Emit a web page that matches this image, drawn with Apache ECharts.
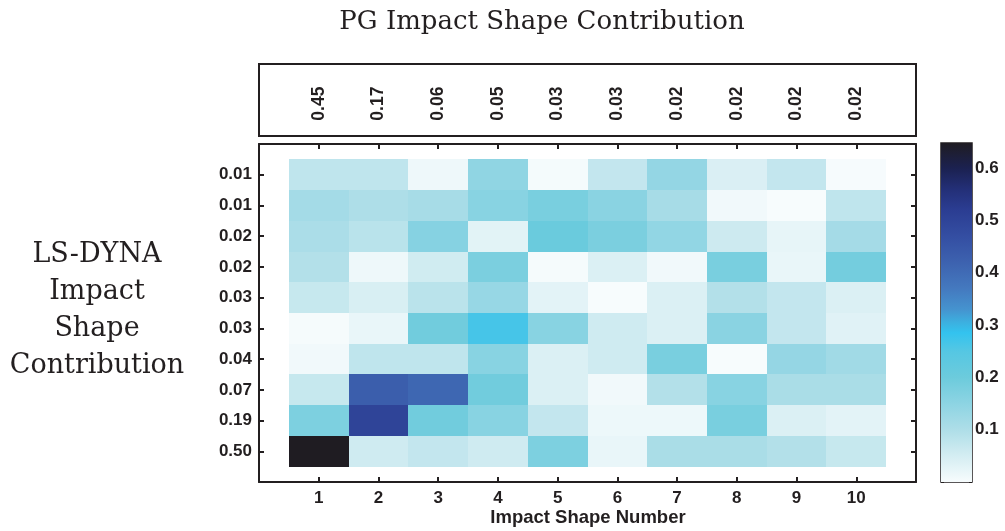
<!DOCTYPE html>
<html>
<head>
<meta charset="utf-8">
<title>Impact Shape Contribution</title>
<script src="https://cdn.jsdelivr.net/npm/echarts@6/dist/echarts.min.js"></script>
<style>
  html, body { margin: 0; padding: 0; background: #ffffff; }
  #chart { width: 1005px; height: 531px; }
</style>
</head>
<body>
<div id="chart"></div>
<script>
// Impact shape numbers (columns)
const shapeNumbers = [1, 2, 3, 4, 5, 6, 7, 8, 9, 10];
// PG contribution of each impact shape (top strip)
const pgContribution = [0.45, 0.17, 0.06, 0.05, 0.03, 0.03, 0.02, 0.02, 0.02, 0.02];
// LS-DYNA contribution of each impact shape (row labels, top to bottom)
const lsDynaContribution = [0.01, 0.01, 0.02, 0.02, 0.03, 0.03, 0.04, 0.07, 0.19, 0.50];
// Cross-contribution matrix, one row per LS-DYNA shape, one column per PG shape
const crossContribution = [
  [0.077, 0.077, 0.013, 0.146, 0.004, 0.072, 0.140, 0.042, 0.072, 0.002],
  [0.115, 0.100, 0.110, 0.157, 0.180, 0.154, 0.110, 0.009, 0.000, 0.077],
  [0.104, 0.085, 0.160, 0.030, 0.204, 0.178, 0.142, 0.059, 0.023, 0.113],
  [0.094, 0.013, 0.055, 0.177, 0.003, 0.040, 0.009, 0.180, 0.020, 0.188],
  [0.068, 0.045, 0.084, 0.135, 0.029, 0.000, 0.040, 0.094, 0.072, 0.040],
  [0.003, 0.020, 0.193, 0.265, 0.157, 0.057, 0.040, 0.154, 0.072, 0.033],
  [0.009, 0.077, 0.077, 0.157, 0.040, 0.057, 0.180, 0.000, 0.138, 0.120],
  [0.068, 0.430, 0.410, 0.193, 0.040, 0.009, 0.094, 0.157, 0.106, 0.106],
  [0.175, 0.500, 0.193, 0.157, 0.072, 0.014, 0.014, 0.180, 0.040, 0.029],
  [0.648, 0.057, 0.072, 0.057, 0.175, 0.020, 0.106, 0.106, 0.094, 0.068]
];
// Colour scale range and its tick labels
const colorRange = [0, 0.648];
const colorTicks = [0.1, 0.2, 0.3, 0.4, 0.5, 0.6];

// Colour map: white -> cyan -> blue -> black
const COLORMAP = [
  [0.000, '#f7fcfd'],
  [0.050, '#d4edf2'],
  [0.100, '#aedee8'],
  [0.150, '#8dd4e3'],
  [0.200, '#6ccbdc'],
  [0.250, '#55c7e3'],
  [0.285, '#33c3ef'],
  [0.305, '#3cb0e0'],
  [0.330, '#4593cf'],
  [0.370, '#4479bf'],
  [0.420, '#3d62af'],
  [0.470, '#344ea2'],
  [0.520, '#2b3d92'],
  [0.560, '#232f77'],
  [0.600, '#1b2150'],
  [0.648, '#1f1c22']
];

function hexToRgb(h) {
  return [parseInt(h.slice(1, 3), 16), parseInt(h.slice(3, 5), 16), parseInt(h.slice(5, 7), 16)];
}
function colorAt(v) {
  if (v <= COLORMAP[0][0]) return COLORMAP[0][1];
  for (let i = 1; i < COLORMAP.length; i++) {
    if (v <= COLORMAP[i][0]) {
      const [v0, c0] = COLORMAP[i - 1];
      const [v1, c1] = COLORMAP[i];
      const t = (v - v0) / (v1 - v0);
      const a = hexToRgb(c0), b = hexToRgb(c1);
      const c = a.map((x, k) => Math.round(x + (b[k] - x) * t));
      return 'rgb(' + c.join(',') + ')';
    }
  }
  return COLORMAP[COLORMAP.length - 1][1];
}

const INK = '#231f20';
const TICK_FONT = { fontFamily: '"Liberation Sans", Arial, sans-serif', fontWeight: 'bold', fontSize: 17, color: INK };

const cellData = [];
crossContribution.forEach((row, r) => {
  row.forEach((v, c) => cellData.push([shapeNumbers[c], r + 1, v]));
});
const stripData = pgContribution.map((v, i) => [shapeNumbers[i], 0.45, v]);

function boxAxis(extra) {
  return Object.assign({
    type: 'value', min: 0, max: 11, interval: 1,
    splitLine: { show: false },
    axisLine: { show: true, onZero: false, lineStyle: { color: INK, width: 2 } },
    axisTick: { show: true, inside: true, length: 5, lineStyle: { color: INK, width: 2 } },
    axisLabel: { show: false }
  }, extra);
}

const chart = echarts.init(document.getElementById('chart'), null, { renderer: 'canvas' });

chart.setOption({
  backgroundColor: '#ffffff',
  animation: false,
  grid: [
    { left: 259, top: 144, width: 657, height: 338 },
    { left: 941, top: 143, width: 31, height: 339, show: true, borderColor: INK, borderWidth: 1.5, backgroundColor: 'transparent' },
    { left: 259, top: 64, width: 657, height: 72, show: true, borderColor: INK, borderWidth: 2, backgroundColor: 'transparent' }
  ],
  xAxis: [
    boxAxis({
      gridIndex: 0, position: 'bottom',
      axisLabel: Object.assign({
        show: true, margin: 8,
        formatter: v => (v >= 1 && v <= 10) ? String(shapeNumbers[v - 1]) : ''
      }, TICK_FONT)
    }),
    boxAxis({ gridIndex: 0, position: 'top' }),
    { type: 'value', gridIndex: 1, min: 0, max: 1, show: false },
    { type: 'value', gridIndex: 2, min: 0, max: 11, show: false }
  ],
  yAxis: [
    boxAxis({
      gridIndex: 0, position: 'left', inverse: true,
      axisLabel: Object.assign({
        show: true, margin: 7,
        formatter: v => (v >= 1 && v <= 10) ? lsDynaContribution[v - 1].toFixed(2) : ''
      }, TICK_FONT)
    }),
    boxAxis({ gridIndex: 0, position: 'right', inverse: true }),
    {
      type: 'value', gridIndex: 1, position: 'right',
      min: colorRange[0], max: colorRange[1], interval: 0.1,
      splitLine: { show: false },
      axisLine: { show: false, onZero: false },
      axisTick: { show: true, inside: true, length: 3, lineStyle: { color: INK, width: 1 } },
      axisLabel: Object.assign({
        show: true, margin: 3,
        formatter: v => colorTicks.some(t => Math.abs(t - v) < 1e-6) ? v.toFixed(1) : ''
      }, TICK_FONT)
    },
    {
      type: 'value', gridIndex: 1, position: 'left',
      min: colorRange[0], max: colorRange[1], interval: 0.1,
      splitLine: { show: false },
      axisLine: { show: false, onZero: false },
      axisTick: { show: true, inside: true, length: 3, lineStyle: { color: INK, width: 1 } },
      axisLabel: { show: false }
    },
    { type: 'value', gridIndex: 2, min: 0, max: 1, show: false }
  ],
  series: [
    {
      // heat map cells
      type: 'custom',
      xAxisIndex: 0, yAxisIndex: 0,
      data: cellData,
      renderItem: function (params, api) {
        const x = api.value(0), y = api.value(1), v = api.value(2);
        const p0 = api.coord([x - 0.5, y - 0.5]);
        const p1 = api.coord([x + 0.5, y + 0.5]);
        const x0 = Math.round(Math.min(p0[0], p1[0])), x1 = Math.round(Math.max(p0[0], p1[0]));
        const y0 = Math.round(Math.min(p0[1], p1[1])), y1 = Math.round(Math.max(p0[1], p1[1]));
        return {
          type: 'rect',
          shape: { x: x0, y: y0, width: x1 - x0, height: y1 - y0 },
          style: { fill: colorAt(v) }
        };
      }
    },
    {
      // colour bar
      type: 'custom',
      xAxisIndex: 2, yAxisIndex: 2,
      data: [[0, colorRange[0], colorRange[1]]],
      z: 1,
      renderItem: function (params, api) {
        const pTop = api.coord([0, api.value(2)]);
        const pBot = api.coord([1, api.value(1)]);
        const span = colorRange[1] - colorRange[0];
        const stops = COLORMAP.map(([v, c]) => ({ offset: (v - colorRange[0]) / span, color: c }));
        return {
          type: 'rect',
          shape: { x: pTop[0], y: pTop[1], width: pBot[0] - pTop[0], height: pBot[1] - pTop[1] },
          style: { fill: new echarts.graphic.LinearGradient(0, 1, 0, 0, stops) }
        };
      }
    },
    {
      // PG contribution labels in the top strip
      type: 'custom',
      xAxisIndex: 3, yAxisIndex: 4,
      data: stripData,
      renderItem: function (params, api) {
        const p = api.coord([api.value(0), api.value(1)]);
        return {
          type: 'text',
          x: p[0], y: p[1],
          rotation: Math.PI / 2,
          style: {
            text: api.value(2).toFixed(2),
            font: 'bold 17.5px "Liberation Sans", Arial, sans-serif',
            fill: INK,
            align: 'center', verticalAlign: 'middle',
            textAlign: 'center', textVerticalAlign: 'middle'
          }
        };
      }
    }
  ],
  graphic: [
    {
      type: 'text', x: 542, y: 22,
      style: {
        text: 'PG Impact Shape Contribution',
        font: '26px "DejaVu Serif", serif', fill: INK,
        align: 'center', verticalAlign: 'middle', textAlign: 'center', textVerticalAlign: 'middle'
      }
    },
    {
      type: 'text', x: 97, y: 310,
      style: {
        text: 'LS-DYNA\nImpact\nShape\nContribution',
        font: '27px "DejaVu Serif", serif', fill: INK, lineHeight: 37,
        align: 'center', verticalAlign: 'middle', textAlign: 'center', textVerticalAlign: 'middle'
      }
    },
    {
      type: 'text', x: 588, y: 518,
      style: {
        text: 'Impact Shape Number',
        font: 'bold 18.5px "Liberation Sans", Arial, sans-serif', fill: INK,
        align: 'center', verticalAlign: 'middle', textAlign: 'center', textVerticalAlign: 'middle'
      }
    }
  ]
});
</script>
</body>
</html>
